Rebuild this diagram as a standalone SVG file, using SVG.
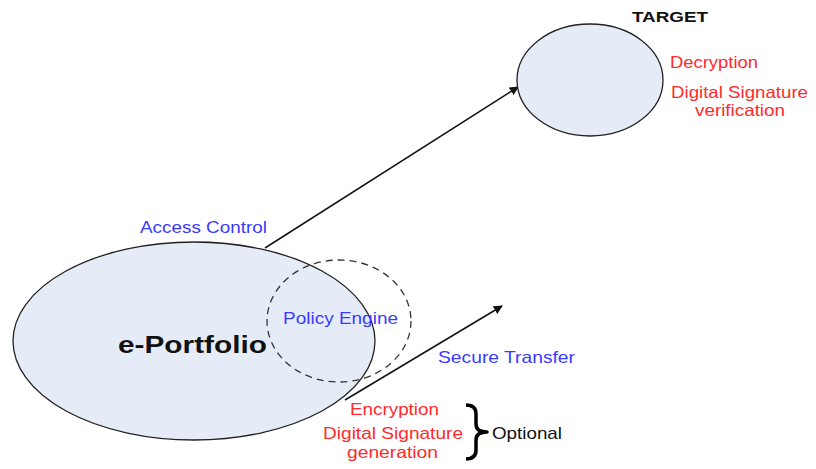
<svg xmlns="http://www.w3.org/2000/svg" width="816" height="469" viewBox="0 0 816 469">
  <style>
    .t { font-family: "Liberation Sans", Arial, sans-serif; }
    .red { fill: #ff2a2a; font-size: 16.5px; }
    .blue { fill: #3a3aff; font-size: 16.5px; }
    .blk { fill: #111; }
    .shape { fill: #e6ecf7; stroke: #222; stroke-width: 1.3; }
    .edge { fill: none; stroke: #111; stroke-width: 1.5; }
  </style>
  <defs>
    <marker id="arrow" viewBox="0 0 10 10" refX="9" refY="5" markerWidth="9" markerHeight="9" orient="auto" markerUnits="userSpaceOnUse">
      <path d="M0,0 L10,5 L0,10 z" fill="#111"/>
    </marker>
  </defs>
  <rect width="816" height="469" fill="#ffffff"/>

  <!-- connectors -->
  <g id="connectors">
    <line class="edge" x1="265" y1="248" x2="518" y2="87" marker-end="url(#arrow)"/>
    <line class="edge" x1="345" y1="400" x2="502" y2="306" marker-end="url(#arrow)"/>
  </g>

  <!-- source node -->
  <g id="eportfolio">
    <ellipse class="shape" cx="194" cy="341" rx="181" ry="99"/>
    <text class="t blk" x="118" y="353" font-size="24" font-weight="bold" textLength="149" lengthAdjust="spacingAndGlyphs">e-Portfolio</text>
  </g>

  <!-- policy engine (dashed) -->
  <g id="policy-engine">
    <ellipse cx="339" cy="321" rx="72" ry="61" fill="none" stroke="#333" stroke-width="1.3" stroke-dasharray="7,5"/>
    <text class="t blue" x="283" y="324" textLength="115" lengthAdjust="spacingAndGlyphs">Policy Engine</text>
  </g>

  <!-- target node -->
  <g id="target">
    <ellipse class="shape" cx="590" cy="80" rx="73" ry="56"/>
    <text class="t blk" x="632" y="22" font-size="15.5" font-weight="bold" textLength="76" lengthAdjust="spacingAndGlyphs">TARGET</text>
    <text class="t red" x="670" y="68" textLength="88" lengthAdjust="spacingAndGlyphs">Decryption</text>
    <text class="t red" x="671" y="98" textLength="137" lengthAdjust="spacingAndGlyphs">Digital Signature</text>
    <text class="t red" x="695" y="116" textLength="90" lengthAdjust="spacingAndGlyphs">verification</text>
  </g>

  <!-- labels -->
  <g id="labels">
    <text class="t blue" x="140" y="233" textLength="127" lengthAdjust="spacingAndGlyphs">Access Control</text>
    <text class="t blue" x="438" y="363" textLength="137" lengthAdjust="spacingAndGlyphs">Secure Transfer</text>
    <text class="t red" x="350" y="415" textLength="89" lengthAdjust="spacingAndGlyphs">Encryption</text>
    <text class="t red" x="323" y="439" textLength="140" lengthAdjust="spacingAndGlyphs">Digital Signature</text>
    <text class="t red" x="347" y="458" textLength="91" lengthAdjust="spacingAndGlyphs">generation</text>
  </g>

  <!-- optional brace -->
  <g id="optional">
    <path d="M466,405 Q476,405 476,414 L476,424 Q476,432 487,432 Q476,432 476,440 L476,450 Q476,459 466,459" fill="none" stroke="#000" stroke-width="3.5" stroke-linejoin="round"/>
    <text class="t blk" x="492" y="439" font-size="16.5" textLength="70" lengthAdjust="spacingAndGlyphs">Optional</text>
  </g>
</svg>
